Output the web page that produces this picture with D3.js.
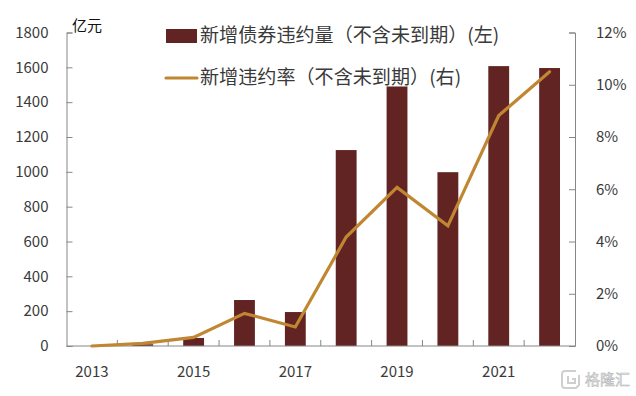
<!DOCTYPE html>
<html>
<head>
<meta charset="utf-8">
<script src="https://cdn.jsdelivr.net/npm/d3@7"></script>
<style>
html, body { margin: 0; padding: 0; background: #fff; }
text { font-family: "Noto Sans CJK SC", "Noto Sans", sans-serif; }
</style>
</head>
<body>
<div id="chart"></div>
<script>
var years = ["2013","2014","2015","2016","2017","2018","2019","2020","2021","2022"];
var amount = [0, 10, 46, 264, 195, 1125, 1490, 998, 1607, 1596];
var rate = [0, 0.1, 0.33, 1.25, 0.73, 4.17, 6.07, 4.6, 8.82, 10.5];
var leftTicks = [0,200,400,600,800,1000,1200,1400,1600,1800];
var rightTicks = [0,2,4,6,8,10,12];
var yearLabels = ["2013","2015","2017","2019","2021"];

var margin = { top: 32.5, right: 61, bottom: 50, left: 66.5 };
var width = 636, height = 396;
var inner_w = width - margin.left - margin.right,
	inner_h = height - margin.top - margin.bottom;

var barColor = "#622423", lineColor = "#C08631", axisColor = "#868686", textColor = "#3a3a3a";

var svg = d3.select("#chart").append("svg")
	.attr("width", width)
	.attr("height", height)
	.style("display", "block");

var chartGroup = svg.append("g")
	.attr("transform", "translate(" + margin.left + "," + margin.top + ")");

var x = d3.scaleBand().domain(years).range([0, inner_w]).paddingInner(0.59).paddingOuter(0.295);
var yL = d3.scaleLinear().domain([0, 1800]).range([inner_h, 0]);
var yR = d3.scaleLinear().domain([0, 12]).range([inner_h, 0]);

chartGroup.selectAll("rect.bar")
	.data(years)
	.enter().append("rect")
	.attr("class", "bar")
	.attr("x", function(d){ return x(d); })
	.attr("y", function(d, i){ return yL(amount[i]); })
	.attr("width", x.bandwidth())
	.attr("height", function(d, i){ return inner_h - yL(amount[i]); })
	.attr("fill", barColor);

// axes
var leftAxis = d3.axisLeft(yL).tickValues(leftTicks).tickSize(-6).tickPadding(18).tickFormat(d3.format("d"));
var rightAxis = d3.axisRight(yR).tickValues(rightTicks).tickSize(-6).tickPadding(21)
	.tickFormat(function(d){ return d + "%"; });

var gl = chartGroup.append("g").call(leftAxis);
var gr = chartGroup.append("g").attr("transform", "translate(" + inner_w + ",0)").call(rightAxis);

// x axis ticks sit on the category boundaries, labels only every other year
var step = x.step();
var gx = chartGroup.append("g").attr("transform", "translate(0," + inner_h + ")");
gx.append("line").attr("x1", 0).attr("x2", inner_w).attr("stroke", axisColor).attr("stroke-width", 1);
gx.selectAll("line.tick")
	.data(years.slice(1))
	.enter().append("line")
	.attr("class", "tick")
	.attr("x1", function(d){ return x(d) + x.bandwidth() / 2 - step / 2; })
	.attr("x2", function(d){ return x(d) + x.bandwidth() / 2 - step / 2; })
	.attr("y1", 0).attr("y2", -6)
	.attr("stroke", axisColor);
gx.selectAll("text")
	.data(yearLabels)
	.enter().append("text")
	.attr("x", function(d){ return x(d) + x.bandwidth() / 2; })
	.attr("y", 31)
	.attr("text-anchor", "middle")
	.attr("font-size", 15)
	.attr("fill", textColor)
	.text(function(d){ return d; });

[gl, gr].forEach(function(g){
	g.selectAll("path,line").attr("stroke", axisColor);
	g.selectAll("text").attr("font-size", 15).attr("fill", textColor)
		.style("font-family", '"Noto Sans CJK SC"');
	g.attr("font-family", null);
});

var line = d3.line()
	.x(function(d, i){ return x(years[i]) + x.bandwidth() / 2; })
	.y(function(d){ return yR(d); });

chartGroup.append("path")
	.attr("d", line(rate))
	.attr("fill", "none")
	.attr("stroke", lineColor)
	.attr("stroke-width", 3.2)
	.attr("stroke-linecap", "round")
	.attr("stroke-linejoin", "miter");

// unit label
svg.append("text").attr("x", 72).attr("y", 31)
	.attr("font-size", 15).attr("fill", "#111").text("亿元");

// legend
svg.append("rect").attr("x", 166).attr("y", 29).attr("width", 31).attr("height", 14).attr("fill", barColor);
svg.append("text").attr("x", 200).attr("y", 42)
	.attr("font-size", 19.1).attr("fill", textColor).text("新增债券违约量（不含未到期）(左)");
svg.append("line").attr("x1", 166).attr("x2", 197).attr("y1", 78).attr("y2", 78)
	.attr("stroke", lineColor).attr("stroke-width", 3.2).attr("stroke-linecap", "round");
svg.append("text").attr("x", 200).attr("y", 84)
	.attr("font-size", 19.1).attr("fill", textColor).text("新增违约率（不含未到期）(右)");

// watermark
var wm = svg.append("g");
wm.append("path")
	.attr("d", "M576 371h-11a3 3 0 0 0 -3 3v11a3 3 0 0 0 3 3h11l3 -3v-10M568 376v7h7v-4h-3")
	.attr("fill", "none").attr("stroke", "#cfcfcf").attr("stroke-width", 2);
wm.append("text").attr("x", 585).attr("y", 385)
	.attr("font-size", 15).attr("fill", "#e6e6e6")
	.attr("stroke", "#b5b5b5").attr("stroke-width", 0.5)
	.text("格隆汇");
</script>
</body>
</html>
